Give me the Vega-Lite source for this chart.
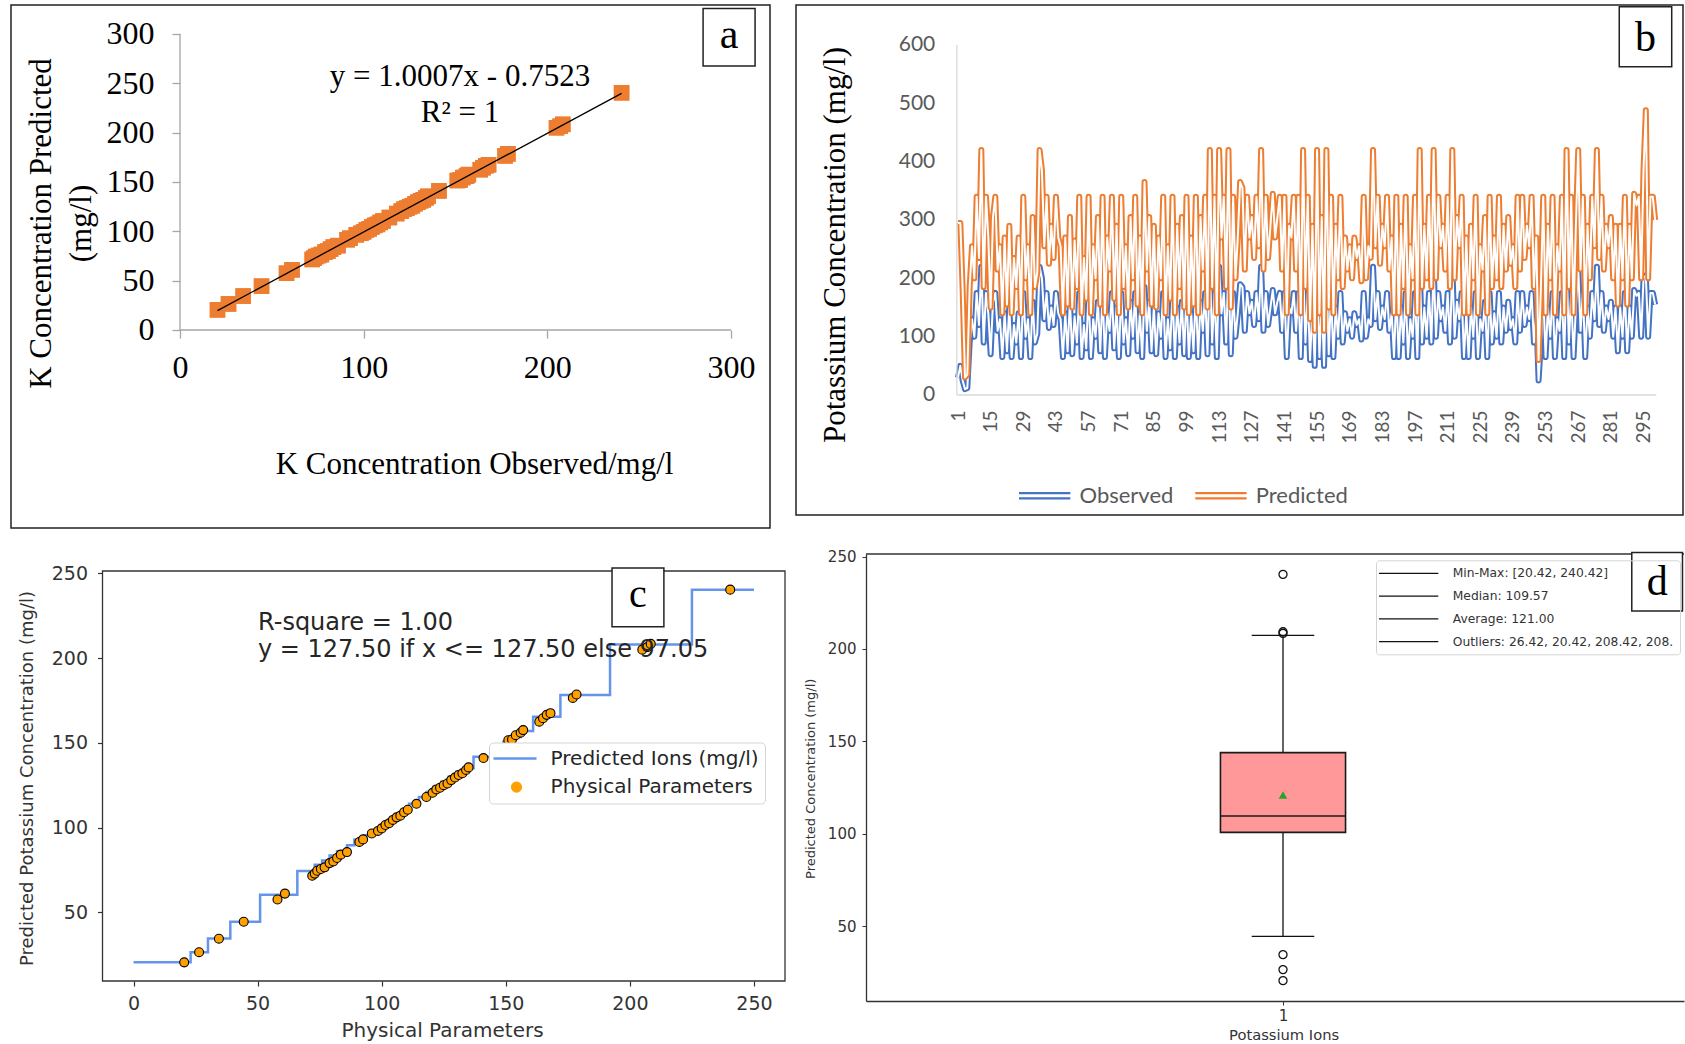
{
"$schema": "https://vega.github.io/schema/vega-lite/v6.json",
"background": "white",
"padding": {"left": 10, "top": 4, "right": 0, "bottom": 0},
"columns": 2,
"spacing": 26,
"bounds": "flush",
"resolve": {"scale": {"color": "independent"}, "legend": {"color": "independent"}},
"config": {
  "view": {"stroke": null},
  "axis": {"grid": false, "labelOverlap": false, "labelFlush": false}
},
"datasets": {
  "pts": [{"x":20.42,"y":20.42},{"x":26.42,"y":26.42},{"x":34.4,"y":34.4},{"x":44.4,"y":44.4},{"x":58,"y":57.5},{"x":61,"y":61},{"x":72,"y":71.5},{"x":73,"y":72.8},{"x":74,"y":74.5},{"x":75.5,"y":75.5},{"x":77,"y":76.5},{"x":79,"y":79},{"x":80.5,"y":80},{"x":82,"y":82},{"x":83.5,"y":84},{"x":86,"y":85.5},{"x":91,"y":91.5},{"x":92.5,"y":93},{"x":96,"y":96.5},{"x":98.5,"y":98},{"x":100,"y":99.5},{"x":101.5,"y":101.5},{"x":103,"y":102.5},{"x":104.5,"y":104.5},{"x":106,"y":106},{"x":107.5,"y":107},{"x":109,"y":109},{"x":110.5,"y":110.5},{"x":114,"y":114},{"x":118,"y":118},{"x":120.5,"y":120.5},{"x":122,"y":122.5},{"x":123.5,"y":123.5},{"x":125,"y":125},{"x":126.5,"y":126},{"x":128,"y":128},{"x":129.5,"y":129.5},{"x":131,"y":131},{"x":132.5,"y":132},{"x":134,"y":134},{"x":135,"y":135.5},{"x":141,"y":141},{"x":151,"y":151.5},{"x":152.5,"y":152},{"x":154,"y":154.5},{"x":156,"y":156},{"x":157,"y":157.5},{"x":163.5,"y":162.5},{"x":165,"y":164.5},{"x":166.5,"y":166.5},{"x":168,"y":167.5},{"x":177,"y":176.5},{"x":178.5,"y":178.5},{"x":205,"y":205},{"x":207,"y":206.5},{"x":208.4,"y":208.4},{"x":240.42,"y":240.42}],
  "step": [{"x":0,"y":20.42},{"x":23,"y":26.42},{"x":30,"y":34.5},{"x":39,"y":44.4},{"x":51,"y":60.4},{"x":66,"y":74.4},{"x":73,"y":78},{"x":76,"y":80.5},{"x":79,"y":83.5},{"x":82,"y":86},{"x":86,"y":89.5},{"x":89,"y":93},{"x":93,"y":95.5},{"x":96,"y":98},{"x":99,"y":101},{"x":102,"y":104},{"x":105,"y":107},{"x":108,"y":110.5},{"x":111,"y":114},{"x":115,"y":118},{"x":118,"y":121},{"x":121,"y":124},{"x":124,"y":127},{"x":127,"y":130},{"x":130,"y":133},{"x":133,"y":135},{"x":137,"y":141.8},{"x":149,"y":150.7},{"x":152,"y":153.5},{"x":156,"y":157},{"x":161,"y":165.4},{"x":172,"y":178.2},{"x":192,"y":208},{"x":225,"y":240.42},{"x":250,"y":240.42}],
  "ser": [
{"i":1,"o":30,"p":295},{"i":2,"o":50,"p":295},{"i":3,"o":25,"p":180},{"i":4,"o":10,"p":30},{"i":5,"o":12,"p":35},{"i":6,"o":90,"p":185},{"i":7,"o":130,"p":255},{"i":8,"o":100,"p":200},{"i":9,"o":175,"p":340},{"i":10,"o":120,"p":235},
{"i":11,"o":220,"p":420},{"i":12,"o":90,"p":185},{"i":13,"o":175,"p":340},{"i":14,"o":140,"p":270},{"i":15,"o":70,"p":150},{"i":16,"o":160,"p":305},{"i":17,"o":175,"p":340},{"i":18,"o":110,"p":215},{"i":19,"o":130,"p":255},{"i":20,"o":65,"p":140},
{"i":21,"o":140,"p":270},{"i":22,"o":75,"p":155},{"i":23,"o":150,"p":290},{"i":24,"o":65,"p":140},{"i":25,"o":120,"p":235},{"i":26,"o":90,"p":185},{"i":27,"o":140,"p":270},{"i":28,"o":65,"p":140},{"i":29,"o":175,"p":340},{"i":30,"o":100,"p":200},
{"i":31,"o":130,"p":255},{"i":32,"o":65,"p":140},{"i":33,"o":160,"p":305},{"i":34,"o":90,"p":185},{"i":35,"o":105,"p":210},{"i":36,"o":220,"p":420},{"i":37,"o":200,"p":385},{"i":38,"o":130,"p":255},{"i":39,"o":175,"p":340},{"i":40,"o":115,"p":225},
{"i":41,"o":150,"p":290},{"i":42,"o":120,"p":235},{"i":43,"o":175,"p":340},{"i":44,"o":140,"p":270},{"i":45,"o":130,"p":255},{"i":46,"o":65,"p":140},{"i":47,"o":140,"p":270},{"i":48,"o":75,"p":155},{"i":49,"o":160,"p":305},{"i":50,"o":70,"p":150},
{"i":51,"o":135,"p":265},{"i":52,"o":90,"p":185},{"i":53,"o":175,"p":340},{"i":54,"o":65,"p":140},{"i":55,"o":120,"p":235},{"i":56,"o":80,"p":165},{"i":57,"o":175,"p":340},{"i":58,"o":65,"p":140},{"i":59,"o":130,"p":255},{"i":60,"o":100,"p":200},
{"i":61,"o":160,"p":305},{"i":62,"o":75,"p":155},{"i":63,"o":175,"p":340},{"i":64,"o":65,"p":140},{"i":65,"o":140,"p":270},{"i":66,"o":110,"p":215},{"i":67,"o":175,"p":340},{"i":68,"o":80,"p":165},{"i":69,"o":150,"p":290},{"i":70,"o":65,"p":140},
{"i":71,"o":175,"p":340},{"i":72,"o":90,"p":185},{"i":73,"o":130,"p":255},{"i":74,"o":70,"p":150},{"i":75,"o":160,"p":305},{"i":76,"o":100,"p":200},{"i":77,"o":175,"p":340},{"i":78,"o":75,"p":155},{"i":79,"o":140,"p":270},{"i":80,"o":65,"p":140},
{"i":81,"o":185,"p":365},{"i":82,"o":110,"p":215},{"i":83,"o":160,"p":305},{"i":84,"o":75,"p":155},{"i":85,"o":150,"p":290},{"i":86,"o":70,"p":150},{"i":87,"o":140,"p":270},{"i":88,"o":100,"p":200},{"i":89,"o":175,"p":340},{"i":90,"o":65,"p":140},
{"i":91,"o":130,"p":255},{"i":92,"o":80,"p":165},{"i":93,"o":175,"p":340},{"i":94,"o":65,"p":140},{"i":95,"o":150,"p":290},{"i":96,"o":90,"p":185},{"i":97,"o":160,"p":305},{"i":98,"o":70,"p":150},{"i":99,"o":175,"p":340},{"i":100,"o":65,"p":140},
{"i":101,"o":140,"p":270},{"i":102,"o":75,"p":155},{"i":103,"o":175,"p":340},{"i":104,"o":65,"p":140},{"i":105,"o":160,"p":305},{"i":106,"o":110,"p":215},{"i":107,"o":175,"p":340},{"i":108,"o":70,"p":150},{"i":109,"o":220,"p":420},{"i":110,"o":90,"p":185},
{"i":111,"o":175,"p":340},{"i":112,"o":65,"p":140},{"i":113,"o":220,"p":420},{"i":114,"o":140,"p":270},{"i":115,"o":175,"p":340},{"i":116,"o":90,"p":185},{"i":117,"o":220,"p":420},{"i":118,"o":70,"p":150},{"i":119,"o":175,"p":340},{"i":120,"o":100,"p":200},
{"i":121,"o":140,"p":270},{"i":122,"o":190,"p":365},{"i":123,"o":185,"p":355},{"i":124,"o":110,"p":215},{"i":125,"o":175,"p":340},{"i":126,"o":140,"p":270},{"i":127,"o":160,"p":305},{"i":128,"o":120,"p":235},{"i":129,"o":175,"p":340},{"i":130,"o":130,"p":255},
{"i":131,"o":220,"p":420},{"i":132,"o":110,"p":215},{"i":133,"o":175,"p":340},{"i":134,"o":120,"p":235},{"i":135,"o":150,"p":290},{"i":136,"o":180,"p":345},{"i":137,"o":140,"p":270},{"i":138,"o":160,"p":305},{"i":139,"o":175,"p":340},{"i":140,"o":110,"p":215},
{"i":141,"o":175,"p":340},{"i":142,"o":65,"p":140},{"i":143,"o":150,"p":290},{"i":144,"o":140,"p":270},{"i":145,"o":175,"p":340},{"i":146,"o":110,"p":215},{"i":147,"o":175,"p":340},{"i":148,"o":65,"p":140},{"i":149,"o":220,"p":420},{"i":150,"o":90,"p":185},
{"i":151,"o":175,"p":340},{"i":152,"o":60,"p":130},{"i":153,"o":150,"p":290},{"i":154,"o":50,"p":110},{"i":155,"o":220,"p":420},{"i":156,"o":65,"p":140},{"i":157,"o":160,"p":305},{"i":158,"o":50,"p":110},{"i":159,"o":220,"p":420},{"i":160,"o":70,"p":150},
{"i":161,"o":175,"p":340},{"i":162,"o":65,"p":140},{"i":163,"o":150,"p":290},{"i":164,"o":100,"p":200},{"i":165,"o":175,"p":340},{"i":166,"o":90,"p":185},{"i":167,"o":140,"p":270},{"i":168,"o":110,"p":215},{"i":169,"o":130,"p":255},{"i":170,"o":100,"p":200},
{"i":171,"o":140,"p":270},{"i":172,"o":120,"p":235},{"i":173,"o":130,"p":255},{"i":174,"o":95,"p":195},{"i":175,"o":175,"p":340},{"i":176,"o":100,"p":200},{"i":177,"o":130,"p":255},{"i":178,"o":120,"p":235},{"i":179,"o":220,"p":420},{"i":180,"o":130,"p":255},
{"i":181,"o":175,"p":340},{"i":182,"o":115,"p":225},{"i":183,"o":150,"p":290},{"i":184,"o":130,"p":255},{"i":185,"o":175,"p":340},{"i":186,"o":110,"p":215},{"i":187,"o":140,"p":270},{"i":188,"o":65,"p":140},{"i":189,"o":175,"p":340},{"i":190,"o":65,"p":140},
{"i":191,"o":150,"p":290},{"i":192,"o":90,"p":185},{"i":193,"o":175,"p":340},{"i":194,"o":65,"p":140},{"i":195,"o":130,"p":255},{"i":196,"o":100,"p":200},{"i":197,"o":175,"p":340},{"i":198,"o":65,"p":140},{"i":199,"o":220,"p":420},{"i":200,"o":90,"p":185},
{"i":201,"o":150,"p":290},{"i":202,"o":100,"p":200},{"i":203,"o":175,"p":340},{"i":204,"o":90,"p":185},{"i":205,"o":220,"p":420},{"i":206,"o":100,"p":200},{"i":207,"o":175,"p":340},{"i":208,"o":130,"p":255},{"i":209,"o":150,"p":290},{"i":210,"o":110,"p":215},
{"i":211,"o":175,"p":340},{"i":212,"o":90,"p":185},{"i":213,"o":220,"p":420},{"i":214,"o":100,"p":200},{"i":215,"o":160,"p":305},{"i":216,"o":130,"p":255},{"i":217,"o":175,"p":340},{"i":218,"o":65,"p":140},{"i":219,"o":140,"p":270},{"i":220,"o":65,"p":140},
{"i":221,"o":150,"p":290},{"i":222,"o":100,"p":200},{"i":223,"o":175,"p":340},{"i":224,"o":65,"p":140},{"i":225,"o":130,"p":255},{"i":226,"o":110,"p":215},{"i":227,"o":160,"p":305},{"i":228,"o":65,"p":140},{"i":229,"o":175,"p":340},{"i":230,"o":90,"p":185},
{"i":231,"o":140,"p":270},{"i":232,"o":100,"p":200},{"i":233,"o":175,"p":340},{"i":234,"o":90,"p":185},{"i":235,"o":150,"p":290},{"i":236,"o":110,"p":215},{"i":237,"o":160,"p":305},{"i":238,"o":115,"p":225},{"i":239,"o":130,"p":255},{"i":240,"o":90,"p":185},
{"i":241,"o":175,"p":340},{"i":242,"o":110,"p":215},{"i":243,"o":175,"p":340},{"i":244,"o":120,"p":235},{"i":245,"o":150,"p":290},{"i":246,"o":130,"p":255},{"i":247,"o":175,"p":340},{"i":248,"o":90,"p":185},{"i":249,"o":140,"p":270},{"i":250,"o":25,"p":60},
{"i":251,"o":90,"p":185},{"i":252,"o":175,"p":340},{"i":253,"o":65,"p":140},{"i":254,"o":150,"p":290},{"i":255,"o":100,"p":200},{"i":256,"o":175,"p":340},{"i":257,"o":65,"p":140},{"i":258,"o":130,"p":255},{"i":259,"o":110,"p":215},{"i":260,"o":175,"p":340},
{"i":261,"o":65,"p":140},{"i":262,"o":220,"p":420},{"i":263,"o":90,"p":185},{"i":264,"o":175,"p":340},{"i":265,"o":65,"p":140},{"i":266,"o":150,"p":290},{"i":267,"o":220,"p":420},{"i":268,"o":110,"p":215},{"i":269,"o":175,"p":340},{"i":270,"o":65,"p":140},
{"i":271,"o":150,"p":290},{"i":272,"o":100,"p":200},{"i":273,"o":175,"p":340},{"i":274,"o":130,"p":255},{"i":275,"o":220,"p":420},{"i":276,"o":120,"p":235},{"i":277,"o":175,"p":340},{"i":278,"o":110,"p":215},{"i":279,"o":150,"p":290},{"i":280,"o":130,"p":255},
{"i":281,"o":160,"p":305},{"i":282,"o":100,"p":200},{"i":283,"o":150,"p":290},{"i":284,"o":75,"p":155},{"i":285,"o":150,"p":290},{"i":286,"o":100,"p":200},{"i":287,"o":175,"p":340},{"i":288,"o":75,"p":155},{"i":289,"o":150,"p":290},{"i":290,"o":100,"p":200},
{"i":291,"o":180,"p":345},{"i":292,"o":170,"p":325},{"i":293,"o":175,"p":340},{"i":294,"o":100,"p":200},{"i":295,"o":200,"p":385},{"i":296,"o":205,"p":488},{"i":297,"o":100,"p":200},{"i":298,"o":175,"p":340},{"i":299,"o":175,"p":340},{"i":300,"o":155,"p":300}
  ]
},
"concat": [
{
  "width": 759, "height": 523,
  "view": {"stroke": "#222222", "strokeWidth": 1.5},
  "layer": [
    {"data": {"name": "pts"}, "mark": {"type": "square", "filled": true, "color": "#ED7D31", "size": 240, "opacity": 1},
     "encoding": {
       "x": {"field": "x", "type": "quantitative", "scale": {"domain": [-92.01, 321.23], "nice": false, "zero": false},
             "axis": {"values": [0, 100, 200, 300], "grid": false, "labelFlush": false, "labelOverlap": false, "domain": false, "tickSize": 8, "tickColor": "#A6A6A6", "tickWidth": 1.3,
                      "labelFont": "Liberation Serif", "labelFontSize": 32, "labelColor": "#000000", "labelBaseline": "middle", "labelPadding": 29.5,
                      "offset": -198, "title": "K Concentration Observed/mg/l", "titleFont": "Liberation Serif", "titleFontSize": 31, "titleFontWeight": "normal",
                      "titleColor": "#000000", "titleX": 463, "titleY": 134, "titleBaseline": "middle", "titleAlign": "center"}},
       "y": {"field": "y", "type": "quantitative", "scale": {"domain": [-200.68, 329.39], "nice": false, "zero": false},
             "axis": {"values": [0, 50, 100, 150, 200, 250, 300], "grid": false, "labelFlush": false, "labelOverlap": false, "domain": false, "tickSize": 8, "tickColor": "#A6A6A6", "tickWidth": 1.3,
                      "labelFont": "Liberation Serif", "labelFontSize": 32, "labelColor": "#000000", "labelPadding": 18,
                      "offset": -169, "title": ["K Concentration Predicted", "(mg/l)"], "titleFont": "Liberation Serif", "titleFontSize": 31, "titleFontWeight": "normal",
                      "titleColor": "#000000", "titleLineHeight": 40, "titleX": -139, "titleY": 218, "titleAngle": 270,
                      "titleBaseline": "middle", "titleAlign": "center"}}}},
    {"data": {"values": [{}]}, "mark": {"type": "rule", "color": "#A6A6A6", "strokeWidth": 1.3},
     "encoding": {"x": {"datum": 0}, "x2": {"datum": 300}, "y": {"datum": 0}}},
    {"data": {"values": [{}]}, "mark": {"type": "rule", "color": "#A6A6A6", "strokeWidth": 1.3},
     "encoding": {"x": {"datum": 0}, "y": {"datum": 0}, "y2": {"datum": 300}}},
    {"data": {"name": "pts"}, "mark": {"type": "square", "filled": true, "color": "#ED7D31", "size": 240, "opacity": 1},
     "encoding": {"x": {"field": "x", "type": "quantitative"}, "y": {"field": "y", "type": "quantitative"}}},
    {"data": {"values": [{"x": 20.42, "y": 19.68}, {"x": 240.42, "y": 239.84}]}, "mark": {"type": "line", "color": "#000000", "strokeWidth": 1.3},
     "encoding": {"x": {"field": "x", "type": "quantitative"}, "y": {"field": "y", "type": "quantitative"}}},
    {"data": {"values": [{}]}, "mark": {"type": "text", "font": "Liberation Serif", "fontSize": 31, "color": "#000000", "align": "center", "baseline": "middle"},
     "encoding": {"x": {"datum": 152.45}, "y": {"datum": 256.4}, "text": {"value": "y = 1.0007x - 0.7523"}}},
    {"data": {"values": [{}]}, "mark": {"type": "text", "font": "Liberation Serif", "fontSize": 31, "color": "#000000", "align": "center", "baseline": "middle"},
     "encoding": {"x": {"datum": 152.45}, "y": {"datum": 219.9}, "text": {"value": "R² = 1"}}},
    {"data": {"values": [{}]}, "mark": {"type": "rect", "fill": "white", "stroke": "#222222", "strokeWidth": 1.5},
     "encoding": {"x": {"datum": 284.8}, "x2": {"datum": 313.1}, "y": {"datum": 325.8}, "y2": {"datum": 267.6}}},
    {"data": {"values": [{}]}, "mark": {"type": "text", "font": "Liberation Serif", "fontSize": 42, "color": "#000000", "align": "center", "baseline": "middle"},
     "encoding": {"x": {"datum": 298.95}, "y": {"datum": 298.5}, "text": {"value": "a"}}}
  ]
},
{
  "width": 817, "height": 523,
  "resolve": {"axis": {"x": "independent"}},
  "layer": [
    {"data": {"name": "ser"}, "mark": {"type": "line", "strokeWidth": 6, "strokeJoin": "round"},
     "encoding": {
       "x": {"field": "i", "type": "quantitative", "scale": {"domain": [-38.46, 311.94], "nice": false, "zero": false},
             "axis": {"orient": "bottom", "values": [1, 29, 57, 85, 113, 141, 169, 197, 225, 253, 281],
                      "grid": false, "labelFlush": false, "labelOverlap": false,
                      "domain": false, "ticks": false, "labelAngle": -90, "labelFont": "Lato", "labelFontSize": 19, "labelColor": "#595959",
                      "labelPadding": 15, "offset": -133, "title": null}},
       "y": {"field": "o", "type": "quantitative", "scale": {"domain": [-228.0, 668.57], "nice": false, "zero": false},
             "axis": {"values": [0, 100, 200, 300, 400, 500, 600], "grid": false, "labelFlush": false, "labelOverlap": false,
                      "domain": false, "ticks": false, "labelFont": "Lato", "labelFontSize": 21,
                      "labelColor": "#595959", "labelPadding": 22, "offset": -90.8, "title": "Potassium Concentration (mg/l)",
                      "titleFont": "Liberation Serif", "titleFontSize": 31, "titleFontWeight": "normal", "titleColor": "#000000", "titleX": -121.8, "titleY": 239.5,
                      "titleAngle": 270, "titleBaseline": "middle", "titleAlign": "center"}},
       "color": {"datum": "Observed", "type": "nominal", "scale": {"domain": ["Observed", "Predicted"], "range": ["#4472C4", "#ED7D31"]},
                 "legend": {"orient": "none", "legendX": 148, "legendY": 479.7, "direction": "horizontal", "title": null,
                            "symbolType": "M-1,-0.43H7.55M-1,0.43H7.55", "symbolSize": 144, "symbolStrokeWidth": 2.2,
                            "labelFont": "Lato", "labelFontSize": 22, "labelColor": "#595959", "labelOffset": 43.5, "columnPadding": 16.3,
                            "padding": 0, "labelLimit": 400,
                            "encode": {"symbols": {"update": {"strokeWidth": {"value": 2.2}, "fill": {"value": "transparent"}, "opacity": {"value": 1}}}}}}}},
    {"data": {"name": "ser"}, "mark": {"type": "line", "strokeWidth": 2, "color": "white", "strokeJoin": "round"},
     "encoding": {
       "x": {"field": "i", "type": "quantitative",
             "axis": {"orient": "bottom", "values": [15, 43, 71, 99, 127, 155, 183, 211, 239, 267, 295],
                      "grid": false, "labelFlush": false, "labelOverlap": false,
                      "domain": false, "ticks": false, "labelAngle": -90, "labelFont": "Lato", "labelFontSize": 19, "labelColor": "#595959",
                      "labelPadding": 15, "offset": -133, "title": null}},
       "y": {"field": "o", "type": "quantitative"}}},
    {"data": {"name": "ser"}, "mark": {"type": "line", "strokeWidth": 6, "strokeJoin": "round"},
     "encoding": {"x": {"field": "i", "type": "quantitative", "axis": null}, "y": {"field": "p", "type": "quantitative"},
                  "color": {"datum": "Predicted", "type": "nominal"}}},
    {"data": {"name": "ser"}, "mark": {"type": "line", "strokeWidth": 2, "color": "white", "strokeJoin": "round"},
     "encoding": {"x": {"field": "i", "type": "quantitative", "axis": null}, "y": {"field": "p", "type": "quantitative"}}},
    {"data": {"values": [{}]}, "mark": {"type": "rule", "color": "#D9D9D9", "strokeWidth": 1.3},
     "encoding": {"x": {"datum": 0.5, "axis": null}, "x2": {"datum": 300.5}, "y": {"datum": 0}}},
    {"data": {"values": [{}]}, "mark": {"type": "rule", "color": "#D9D9D9", "strokeWidth": 1.3},
     "encoding": {"x": {"datum": 0.5, "axis": null}, "y": {"datum": 0}, "y2": {"datum": 600}}},
    {"data": {"values": [{}]}, "mark": {"type": "rect", "fillOpacity": 0, "stroke": "#222222", "strokeWidth": 1.5},
     "encoding": {"x": {"datum": -68.48, "axis": null}, "x2": {"datum": 311.94}, "y": {"datum": -205.7}, "y2": {"datum": 668.57}}},
    {"data": {"values": [{}]}, "mark": {"type": "rect", "fill": "white", "stroke": "#222222", "strokeWidth": 1.5},
     "encoding": {"x": {"datum": 284.6, "axis": null}, "x2": {"datum": 307.1}, "y": {"datum": 665.7}, "y2": {"datum": 562.8}}},
    {"data": {"values": [{}]}, "mark": {"type": "text", "font": "Liberation Serif", "fontSize": 42, "color": "#000000", "align": "center", "baseline": "middle"},
     "encoding": {"x": {"datum": 295.85, "axis": null}, "y": {"datum": 612}, "text": {"value": "b"}}}
  ]
},
{
  "width": 829, "height": 427,
  "layer": [
    {"data": {"name": "step"}, "mark": {"type": "line", "interpolate": "step-after", "strokeWidth": 2.5},
     "encoding": {
       "x": {"field": "x", "type": "quantitative", "scale": {"domain": [-49.37, 284.66], "nice": false, "zero": false},
             "axis": {"values": [0, 50, 100, 150, 200, 250], "grid": false, "labelFlush": false, "labelOverlap": false,
                      "domain": false, "tickSize": 5, "tickColor": "#333333", "tickWidth": 1.2,
                      "labelFont": "DejaVu Sans", "labelFontSize": 19, "labelColor": "#333333", "labelBaseline": "middle", "labelPadding": 17,
                      "title": "Physical Parameters", "titleFont": "DejaVu Sans", "titleFontSize": 20, "titleFontWeight": "normal", "titleColor": "#333333",
                      "titleX": 431, "titleY": 49, "titleBaseline": "middle", "titleAlign": "center"}},
       "y": {"field": "y", "type": "quantitative", "scale": {"domain": [9.42, 261.45], "nice": false, "zero": false},
             "axis": {"values": [50, 100, 150, 200, 250], "grid": false, "labelFlush": false, "labelOverlap": false,
                      "domain": false, "tickSize": 5, "tickColor": "#333333", "tickWidth": 1.2,
                      "labelFont": "DejaVu Sans", "labelFontSize": 19, "labelColor": "#333333", "labelPadding": 10, "offset": -91.5,
                      "title": "Predicted Potassium Concentration (mg/l)", "titleFont": "DejaVu Sans", "titleFontSize": 18, "titleFontWeight": "normal", "titleColor": "#333333",
                      "titleX": -75, "titleY": 224, "titleAngle": 270, "titleBaseline": "middle", "titleAlign": "center"}},
       "color": {"datum": "Predicted Ions (mg/l)", "type": "nominal",
                 "scale": {"domain": ["Predicted Ions (mg/l)", "Physical Parameters"], "range": ["#6495ED", "#FF9F00"]},
                 "legend": {"orient": "none", "legendX": 478, "legendY": 188.5, "title": null, "symbolSize": 400, "symbolStrokeWidth": 2.5,
                            "symbolType": "M-1.15,0H3.15", "labelFont": "DejaVu Sans", "labelFontSize": 20, "labelColor": "#262626",
                            "labelOffset": 35.6, "rowPadding": 8.6, "padding": 6, "strokeColor": "#d5d5d5", "fillColor": "white",
                            "cornerRadius": 4, "labelLimit": 400,
                            "encode": {"symbols": {"update": {
                              "shape": {"signal": "datum.value === 'Physical Parameters' ? 'M1.65,0A0.5,0.5,0,1,1,0.65,0A0.5,0.5,0,1,1,1.65,0Z' : 'M-1.15,0H3.15'"},
                              "fill": {"signal": "datum.value === 'Physical Parameters' ? '#FF9F00' : 'transparent'"},
                              "stroke": {"signal": "datum.value === 'Physical Parameters' ? '#000000' : '#6495ED'"},
                              "strokeWidth": {"signal": "datum.value === 'Physical Parameters' ? 1.2 : 2.5"},
                              "opacity": {"value": 1}}}}}}}},
    {"data": {"values": [{}]}, "mark": {"type": "rect", "fillOpacity": 0, "stroke": "#333333", "strokeWidth": 1.3},
     "encoding": {"x": {"datum": -12.5}, "x2": {"datum": 262.5}, "y": {"datum": 9.42}, "y2": {"datum": 251.42}}},
    {"data": {"name": "pts"}, "mark": {"type": "point", "shape": "circle", "filled": true, "size": 80, "stroke": "#000000", "strokeWidth": 1.1, "opacity": 1},
     "encoding": {"x": {"field": "x", "type": "quantitative"}, "y": {"field": "y", "type": "quantitative"},
                  "color": {"datum": "Physical Parameters", "type": "nominal"}}},
    {"data": {"values": [{}]}, "mark": {"type": "text", "font": "DejaVu Sans", "fontSize": 24, "color": "#262626", "align": "left", "baseline": "middle"},
     "encoding": {"x": {"datum": 50.16}, "y": {"datum": 220.7}, "text": {"value": "R-square = 1.00"}}},
    {"data": {"values": [{}]}, "mark": {"type": "text", "font": "DejaVu Sans", "fontSize": 24, "color": "#262626", "align": "left", "baseline": "middle"},
     "encoding": {"x": {"datum": 50.16}, "y": {"datum": 204.8}, "text": {"value": "y = 127.50 if x <= 127.50 else 97.05"}}},
    {"data": {"values": [{}]}, "mark": {"type": "rect", "fill": "white", "stroke": "#222222", "strokeWidth": 1.5},
     "encoding": {"x": {"datum": 192.8}, "x2": {"datum": 213.7}, "y": {"datum": 253.2}, "y2": {"datum": 218.5}}},
    {"data": {"values": [{}]}, "mark": {"type": "text", "font": "Liberation Serif", "fontSize": 40, "color": "#000000", "align": "center", "baseline": "middle"},
     "encoding": {"x": {"datum": 203.25}, "y": {"datum": 237}, "text": {"value": "c"}}}
  ]
},
{
  "width": 818, "height": 447,
  "layer": [
    {"data": {"values": [{"q1": 100.7, "q3": 143.9, "hi": 207.4}]}, "mark": {"type": "rule", "strokeWidth": 1.3},
     "encoding": {
       "x": {"datum": 1, "type": "quantitative", "scale": {"domain": [0.5, 1.48082], "nice": false, "zero": false},
             "axis": {"values": [1], "format": "d", "grid": false, "labelFlush": false, "labelOverlap": false,
                      "domain": true, "domainColor": "#333333", "domainWidth": 1.3, "tickSize": 4, "tickColor": "#333333",
                      "labelFont": "DejaVu Sans", "labelFontSize": 15, "labelColor": "#333333", "labelBaseline": "middle", "labelPadding": 10,
                      "title": "Potassium Ions", "titleFont": "DejaVu Sans", "titleFontSize": 14.7, "titleFontWeight": "normal", "titleColor": "#333333",
                      "titleX": 417.6, "titleY": 34.3, "titleBaseline": "middle", "titleAlign": "center"}},
       "y": {"field": "q3", "type": "quantitative", "scale": {"domain": [9.42, 251.42], "nice": false, "zero": false},
             "axis": {"values": [50, 100, 150, 200, 250], "grid": false, "labelFlush": false, "labelOverlap": false,
                      "domain": true, "domainColor": "#333333", "domainWidth": 1.3, "tickSize": 4,
                      "tickColor": "#333333", "labelFont": "DejaVu Sans", "labelFontSize": 15, "labelColor": "#333333", "labelPadding": 6,
                      "title": "Predicted Concentration (mg/l)", "titleFont": "DejaVu Sans", "titleFontSize": 13, "titleFontWeight": "normal", "titleColor": "#333333",
                      "titleX": -55.3, "titleY": 224.3, "titleAngle": 270, "titleBaseline": "middle", "titleAlign": "center"}},
       "y2": {"field": "hi"},
       "color": {"datum": "Min-Max: [20.42, 240.42]", "type": "nominal",
                 "scale": {"domain": ["Min-Max: [20.42, 240.42]", "Median: 109.57", "Average: 121.00", "Outliers: 26.42, 20.42, 208.42, 208.42, 34.42, 240.42"],
                           "range": ["#111111", "#111111", "#111111", "#111111"]},
                 "legend": {"orient": "none", "legendX": 510, "legendY": 6.3, "title": null, "symbolSize": 144, "symbolStrokeWidth": 1.3,
                            "symbolType": "M-1.667,0H8.22", "labelFont": "DejaVu Sans", "labelFontSize": 12.3, "labelColor": "#333333",
                            "labelOffset": 56.7, "rowPadding": 8.8, "padding": 6, "strokeColor": "#d5d5d5", "cornerRadius": 3, "labelLimit": 400,
                            "labelExpr": "slice(datum.label, 0, 36)",
                            "encode": {"symbols": {"update": {"stroke": {"value": "#111111"}, "strokeWidth": {"value": 1.3}, "fill": {"value": "transparent"}, "opacity": {"value": 1}}}}}}}},
    {"data": {"values": [{"q1": 100.7, "lo": 44.4}]}, "mark": {"type": "rule", "strokeWidth": 1.3, "color": "#111111"},
     "encoding": {"x": {"datum": 1}, "y": {"field": "lo", "type": "quantitative"}, "y2": {"field": "q1"}}},
    {"data": {"values": [{"q1": 100.7, "q3": 143.9}]}, "mark": {"type": "rect", "fill": "#FF9999", "stroke": "#1a1a1a", "strokeWidth": 1.6},
     "encoding": {"x": {"datum": 0.925}, "x2": {"datum": 1.075}, "y": {"field": "q1", "type": "quantitative"}, "y2": {"field": "q3"}}},
    {"data": {"values": [{"med": 109.57}]}, "mark": {"type": "rule", "strokeWidth": 1.6, "color": "#1a1a1a"},
     "encoding": {"x": {"datum": 0.925}, "x2": {"datum": 1.075}, "y": {"field": "med", "type": "quantitative"}}},
    {"data": {"values": [{"cap": 207.4}, {"cap": 44.4}]}, "mark": {"type": "rule", "strokeWidth": 1.3, "color": "#111111"},
     "encoding": {"x": {"datum": 0.9625}, "x2": {"datum": 1.0375}, "y": {"field": "cap", "type": "quantitative"}}},
    {"data": {"values": [{"mean": 121.0}]}, "mark": {"type": "point", "shape": "triangle-up", "filled": true, "color": "#2CA02C", "size": 75, "opacity": 1},
     "encoding": {"x": {"datum": 1}, "y": {"field": "mean", "type": "quantitative"}}},
    {"data": {"values": [{"v": 240.42}, {"v": 208.42}, {"v": 209.3}, {"v": 34.5}, {"v": 26.42}, {"v": 20.42}]},
     "mark": {"type": "point", "shape": "circle", "filled": false, "size": 65, "stroke": "#111111", "strokeWidth": 1.3, "opacity": 1},
     "encoding": {"x": {"datum": 1}, "y": {"field": "v", "type": "quantitative"}}},
    {"data": {"values": [{}]}, "mark": {"type": "rule", "strokeWidth": 1.3, "color": "#333333"},
     "encoding": {"x": {"datum": 0.5}, "x2": {"datum": 1.48082}, "y": {"datum": 251.42}}},
    {"data": {"values": [{}]}, "mark": {"type": "rect", "fill": "white", "stroke": "#222222", "strokeWidth": 1.5},
     "encoding": {"x": {"datum": 1.4182}, "x2": {"datum": 1.479}, "y": {"datum": 252.2}, "y2": {"datum": 220.6}}},
    {"data": {"values": [{}]}, "mark": {"type": "text", "font": "Liberation Serif", "fontSize": 42, "color": "#000000", "align": "center", "baseline": "middle"},
     "encoding": {"x": {"datum": 1.4486}, "y": {"datum": 236.4}, "text": {"value": "d"}}}
  ]
}
]
}
